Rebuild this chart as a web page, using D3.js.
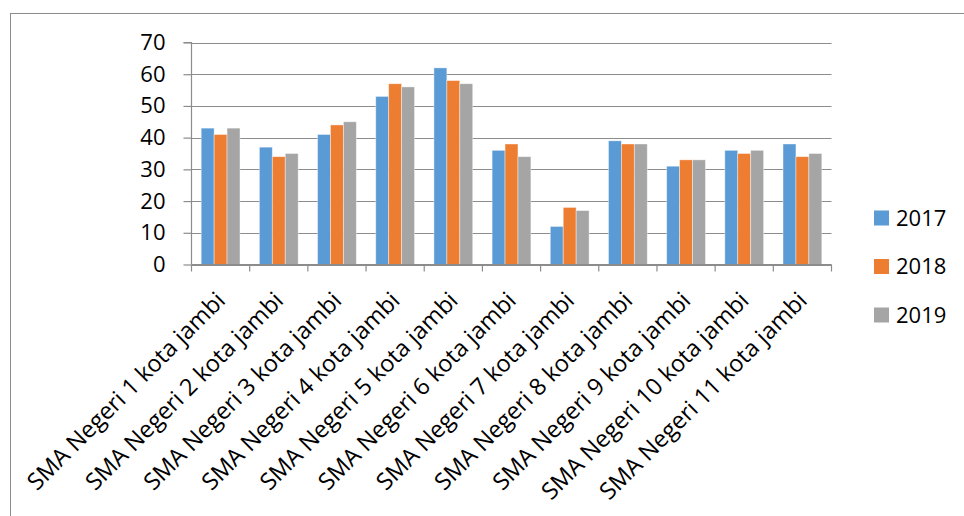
<!DOCTYPE html>
<html><head><meta charset="utf-8">
<script src="https://cdn.jsdelivr.net/npm/d3@7"></script>
<style>body{margin:0;background:#fff}svg{display:block}</style>
</head><body>
<svg id="c" width="964" height="516"></svg>
<script>
const categories = ["SMA Negeri 1 kota jambi","SMA Negeri 2 kota jambi","SMA Negeri 3 kota jambi","SMA Negeri 4 kota jambi","SMA Negeri 5 kota jambi","SMA Negeri 6 kota jambi","SMA Negeri 7 kota jambi","SMA Negeri 8 kota jambi","SMA Negeri 9 kota jambi","SMA Negeri 10 kota jambi","SMA Negeri 11 kota jambi"];
const seriesNames = ["2017","2018","2019"];
const v2017 = [43,37,41,53,62,36,12,39,31,36,38];
const v2018 = [41,34,44,57,58,38,18,38,33,35,34];
const v2019 = [43,35,45,56,57,34,17,38,33,36,35];
const yTicks = [0,10,20,30,40,50,60,70];
const colors = ["#5B9BD5","#ED7D31","#A5A5A5"];

(function(){
const seriesValues = [v2017, v2018, v2019];
const svg = d3.select("#c");
const font = "'Open Sans', sans-serif";

// chart frame
svg.append("rect").attr("x",10.5).attr("y",13.5).attr("width",960).attr("height",520)
  .attr("fill","none").attr("stroke","#8c8c8c").attr("stroke-width",1);

const pL = 191.5, pR = 831.5, pT = 42.5, pB = 264.5;
const x = d3.scaleBand().domain(categories).range([pL, pR]).padding(0);
const y = d3.scaleLinear().domain([0,70]).range([pB, pT]);
const step = x.bandwidth();
const gap = step * 1/3;
const xs = d3.scaleBand().domain(seriesNames).range([gap/2, step - gap/2]).padding(0);

// gridlines
svg.append("g").selectAll("line").data(yTicks).join("line")
  .attr("x1", pL).attr("x2", pR)
  .attr("y1", d => Math.round(y(d)) + 0.5).attr("y2", d => Math.round(y(d)) + 0.5)
  .attr("stroke", "#8c8c8c").attr("stroke-width", 1.2);

// bars
const data = [];
categories.forEach((c,i) => seriesNames.forEach((s,j) => data.push({c, s, v: seriesValues[j][i], j})));
svg.append("g").selectAll("rect").data(data).join("rect")
  .attr("x", d => x(d.c) + xs(d.s))
  .attr("y", d => y(d.v))
  .attr("width", xs.bandwidth())
  .attr("height", d => y(0) - y(d.v))
  .attr("fill", d => colors[d.j])
  .attr("stroke", "#ffffff").attr("stroke-opacity", 0.5).attr("stroke-width", 0.8);

// y axis
const yAxis = d3.axisLeft(y).tickValues(yTicks).tickSize(8).tickPadding(18);
const gy = svg.append("g").attr("transform", `translate(${pL},0)`).call(yAxis);
gy.select(".domain").attr("stroke", "#8c8c8c").attr("stroke-width",1.2).attr("d", `M-8,${pT}H0V${pB}`);
gy.selectAll(".tick line").attr("stroke", "#8c8c8c").attr("stroke-width",1.2);
gy.selectAll(".tick text").attr("font-family", font).attr("font-size", 22).attr("fill", "#000");

// x axis
const gx = svg.append("g").attr("transform", `translate(0,${pB})`);
gx.append("line").attr("x1", pL).attr("x2", pR).attr("stroke", "#8c8c8c").attr("stroke-width",1.2);
const bounds = categories.map(c => x(c)).concat([pR]);
gx.selectAll("line.tk").data(bounds).join("line").attr("class","tk")
  .attr("x1", d => d).attr("x2", d => d).attr("y1", 0).attr("y2", 7)
  .attr("stroke", "#8c8c8c").attr("stroke-width",1.2);
gx.selectAll("text").data(categories).join("text")
  .attr("transform", d => `translate(${x(d) + step/2 + 6},${37.5}) rotate(-45)`)
  .attr("text-anchor", "end")
  .attr("font-family", font).attr("font-size", 23.5).attr("fill", "#000")
  .text(d => d);

// legend
const lg = svg.append("g");
const ly = d3.scalePoint().domain(seriesNames).range([218, 315]);
seriesNames.forEach((s,j) => {
  lg.append("rect").attr("x", 874).attr("y", ly(s) - 7.5).attr("width", 15).attr("height", 15).attr("fill", colors[j]);
  lg.append("text").attr("x", 896).attr("y", ly(s)).attr("dy", "0.36em")
    .attr("font-family", font).attr("font-size", 22).attr("fill", "#000").text(s);
});
})();
</script>
</body></html>
